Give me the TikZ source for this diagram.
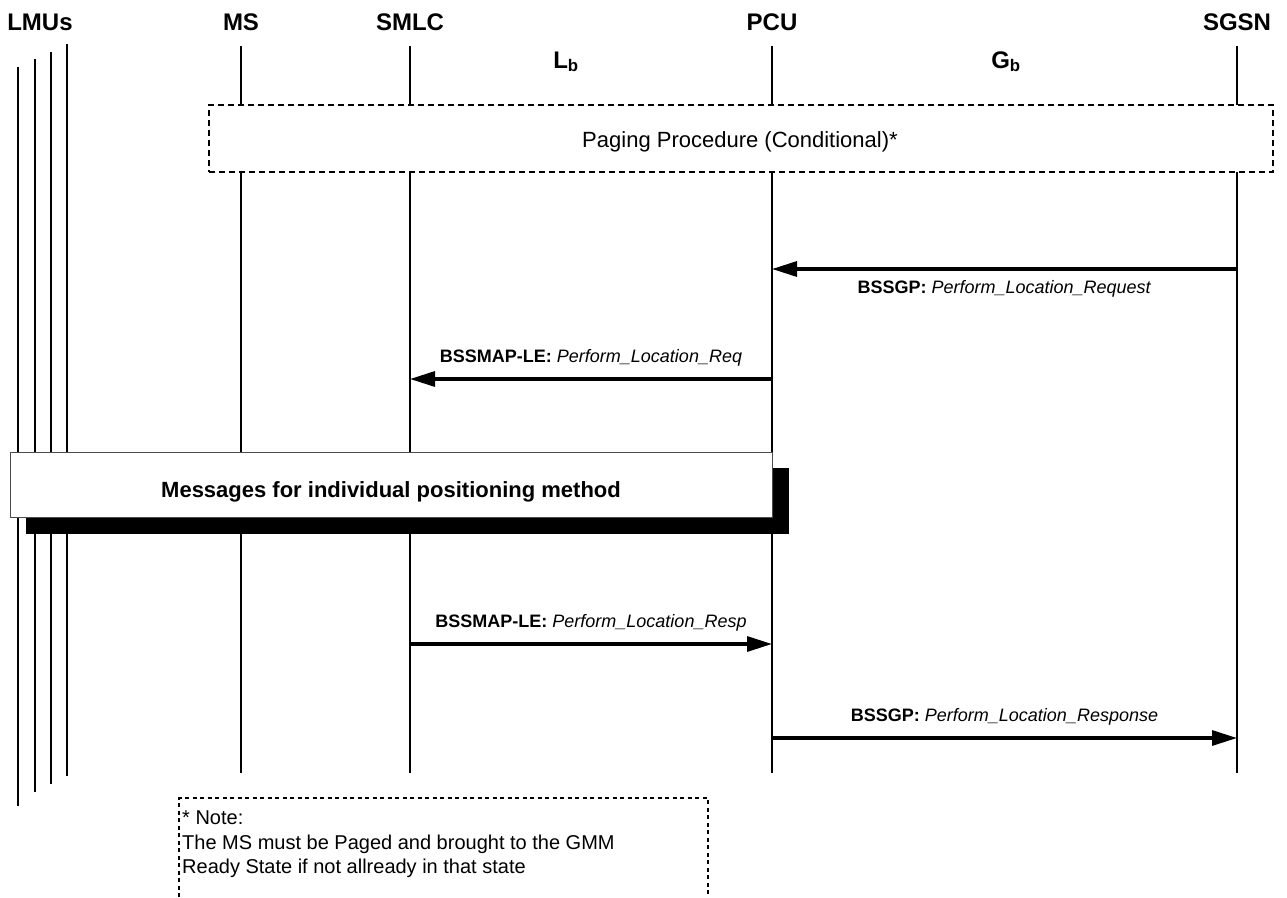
\documentclass[tikz,border=0pt]{standalone}
\usepackage{fontspec}
\setmainfont{Liberation Sans}
\usetikzlibrary{arrows.meta,positioning,calc}

\begin{document}
\begin{tikzpicture}[x=1pt, y=-1pt,
    entity/.style={font=\bfseries\fontsize{24}{28}\selectfont, anchor=base},
    life/.style={line width=2.2pt},
    lmu/.style={line width=2.6pt},
    msg/.style={line width=3.2pt, -{Triangle[length=25pt,width=15pt]}},
    lbl/.style={font=\fontsize{18}{21}\selectfont, anchor=base},
    procbox/.style={draw, line width=2pt, dash pattern=on 6pt off 4pt, fill=white},
    notebox/.style={line width=2pt, dash pattern=on 4pt off 3.5pt}
]
\useasboundingbox (0,0) rectangle (1287,897);

% entities
\node[entity] (lmus) at (40,30) {LMUs};
\node[entity] (ms) at (241,30) {MS};
\node[entity] (smlc) at (410,30) {SMLC};
\node[entity] (pcu) at (772,30) {PCU};
\node[entity] (sgsn) at (1237,30) {SGSN};
\node[entity] (lb) at (566,68) {L\textsubscript{b}};
\node[entity] (gb) at (1006,68) {G\textsubscript{b}};

% LMU lines
\draw[lmu] (18,67) -- (18,806);
\draw[lmu] (35,59) -- (35,792);
\draw[lmu] (51,52) -- (51,784);
\draw[lmu] (67,44) -- (67,776);

% lifelines
\foreach \e in {ms,smlc,pcu,sgsn}{
    \coordinate (\e-top) at ($(\e.base)+(0,16)$);
    \coordinate (\e-bot) at ($(\e.base)+(0,743)$);
    \draw[life] (\e-top) -- (\e-bot);
}

% paging
\node[procbox, minimum width=1064pt, minimum height=67pt, anchor=north west] (paging) at (208,104) {};
\node[font=\fontsize{22}{26}\selectfont, anchor=base] (pagingtxt) at (740,147) {Paging Procedure (Conditional)*};

% messages
\coordinate (sgsn-req) at (sgsn |- 0,269);
\coordinate (pcu-req) at (pcu |- 0,269);
\draw[msg] (sgsn-req) -- (pcu-req) node[lbl, midway, below=7pt] {\textbf{BSSGP:} \textit{Perform\_Location\_Request}};

\coordinate (pcu-ple) at (pcu |- 0,379);
\coordinate (smlc-ple) at (smlc |- 0,379);
\draw[msg] (pcu-ple) -- (smlc-ple) node[lbl, midway, above=8pt] {\textbf{BSSMAP-LE:} \textit{Perform\_Location\_Req}};

\fill (26,468) rectangle (789,534);
\node[draw=black!70, line width=1pt, fill=white, minimum width=762pt, minimum height=65pt, anchor=north west] (method) at (10,452) {};
\node[font=\bfseries\fontsize{22}{26}\selectfont, anchor=base] (methodtxt) at (391,497) {Messages for individual positioning method};

\coordinate (smlc-resp) at (smlc |- 0,644);
\coordinate (pcu-resp) at (pcu |- 0,644);
\draw[msg] (smlc-resp) -- (pcu-resp) node[lbl, midway, above=8pt] {\textbf{BSSMAP-LE:} \textit{Perform\_Location\_Resp}};

\coordinate (pcu-rsp) at (pcu |- 0,738);
\coordinate (sgsn-rsp) at (sgsn |- 0,738);
\draw[msg] (pcu-rsp) -- (sgsn-rsp) node[lbl, midway, above=8pt] {\textbf{BSSGP:} \textit{Perform\_Location\_Response}};

% note
\draw[notebox] (179,897) -- (179,798) -- (708,798) -- (708,897);
\node[font=\fontsize{20}{24.5}\selectfont, align=left, anchor=north west, inner sep=0pt] (note) at (182,811)
    {* Note:\\The MS must be Paged and brought to the GMM\\Ready State if not allready in that state};
\end{tikzpicture}
\end{document}
